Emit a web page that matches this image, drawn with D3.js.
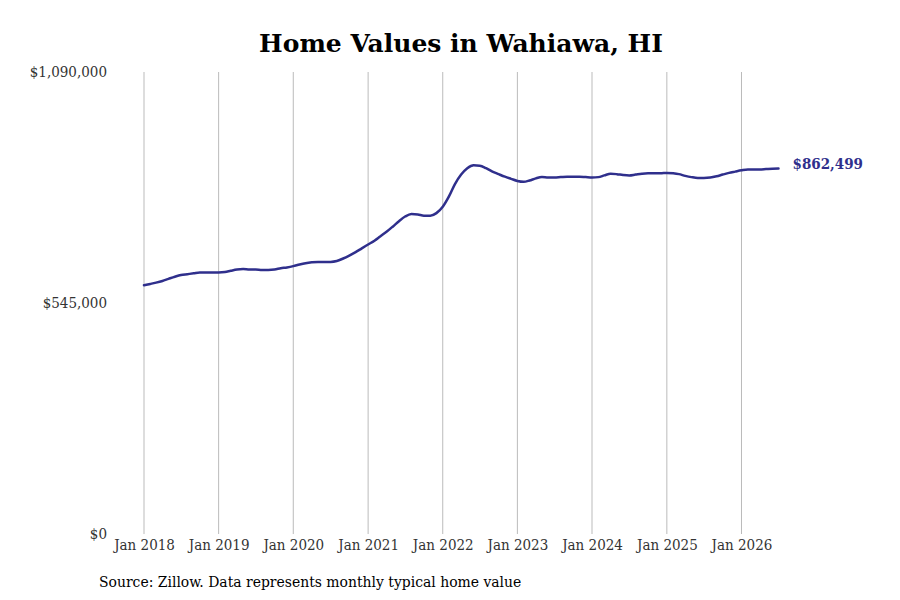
<!DOCTYPE html>
<html>
<head>
<meta charset="utf-8">
<script src="https://cdn.jsdelivr.net/npm/d3@7"></script>
<style>
  body { margin: 0; background: #fff; }
  text { font-family: "DejaVu Serif", serif; }
  .cond { font-family: "DejaVu Serif Condensed", "DejaVu Serif", serif; font-stretch: condensed; }
</style>
</head>
<body>
<div id="chart"></div>
<script>
// monthly typical home value, Jan 2018 .. Jul 2026
const startYear = 2018;
const values = [
  587000, 590000, 593000, 597000, 602000, 607000, 611000, 613000, 615000, 617000, 617000, 617000,
  617000, 618000, 621000, 624000, 625000, 624000, 624000, 623000, 623000, 624000, 627000, 629000,
  632000, 636000, 639000, 641000, 642000, 642000, 642000, 644000, 650000, 657000, 665000, 674000,
  683000, 692000, 702000, 713000, 725000, 738000, 749000, 755000, 754000, 751000, 751000, 757000,
  772000, 797000, 825000, 848000, 863000, 870000, 869000, 863000, 855000, 849000, 843000, 838000,
  833000, 831000, 834000, 839000, 842000, 841000, 841000, 842000, 843000, 843000, 843000, 842000,
  841000, 842000, 846000, 850000, 849000, 847000, 846000, 848000, 850000, 851000, 851000, 851000,
  852000, 851000, 849000, 845000, 842000, 840000, 840000, 841000, 844000, 848000, 852000, 855000,
  858000, 860000, 860000, 860000, 861000, 862000, 862499
];
const yTicks = [0, 545000, 1090000];
const tickYears = [2018, 2019, 2020, 2021, 2022, 2023, 2024, 2025, 2026];
const lastLabel = "$862,499";

const data = values.map((v, i) => ({ date: new Date(startYear, i, 1), value: v }));

const W = 900, H = 600;
const margin = { top: 72, right: 122, bottom: 66, left: 144 };

const svg = d3.select('#chart')
  .append('svg')
  .attr('width', W)
  .attr('height', H);

const x = d3.scaleTime()
  .domain([new Date(2018, 0, 1), new Date(2026, 6, 1)])
  .range([margin.left, 778.5]);

const y = d3.scaleLinear()
  .domain([0, 1090000])
  .range([H - margin.bottom, margin.top]);

// title
svg.append('text')
  .attr('x', 461)
  .attr('y', 52)
  .attr('text-anchor', 'middle')
  .attr('font-size', '25px')
  .attr('font-weight', 'bold')
  .attr('fill', '#000')
  .text('Home Values in Wahiawa, HI');

// vertical grid
svg.append('g')
  .selectAll('line')
  .data(tickYears)
  .enter().append('line')
  .attr('x1', d => x(new Date(d, 0, 1)))
  .attr('x2', d => x(new Date(d, 0, 1)))
  .attr('y1', y(1090000))
  .attr('y2', y(0))
  .attr('stroke', '#bbb')
  .attr('stroke-width', 1);

// x axis labels
const xAxis = svg.append('g')
  .attr('transform', `translate(0, ${y(0)})`)
  .call(d3.axisBottom(x)
    .tickValues(tickYears.map(d => new Date(d, 0, 1)))
    .tickFormat(d3.timeFormat('Jan %Y'))
    .tickSize(0)
    .tickPadding(5));
xAxis.select('.domain').remove();
xAxis.selectAll('text')
  .attr('class', 'cond')
  .attr('font-size', '15px')
  .attr('fill', '#333');

// y axis labels
const yAxis = svg.append('g')
  .attr('transform', `translate(107, 0)`)
  .call(d3.axisLeft(y)
    .tickValues(yTicks)
    .tickFormat(d => '$' + d3.format(',')(d))
    .tickSize(0)
    .tickPadding(0));
yAxis.select('.domain').remove();
yAxis.selectAll('text')
  .attr('class', 'cond')
  .attr('font-size', '15px')
  .attr('fill', '#333');

// line
const line = d3.line()
  .x(d => x(d.date))
  .y(d => y(d.value))
  .curve(d3.curveMonotoneX);

svg.append('path')
  .datum(data)
  .attr('fill', 'none')
  .attr('stroke', '#2f2f8c')
  .attr('stroke-width', 2.5)
  .attr('stroke-linejoin', 'round')
  .attr('stroke-linecap', 'round')
  .attr('d', line);

// end label
const last = data[data.length - 1];
svg.append('text')
  .attr('class', 'cond')
  .attr('x', x(last.date) + 14)
  .attr('y', y(last.value) - 5)
  .attr('dy', '0.35em')
  .attr('font-size', '15px')
  .attr('font-weight', 'bold')
  .attr('fill', '#2f2f8c')
  .text(lastLabel);

// source note
svg.append('text')
  .attr('class', 'cond')
  .attr('x', 99)
  .attr('y', 587)
  .attr('font-size', '15.5px')
  .attr('fill', '#000')
  .text('Source: Zillow. Data represents monthly typical home value');
</script>
</body>
</html>
